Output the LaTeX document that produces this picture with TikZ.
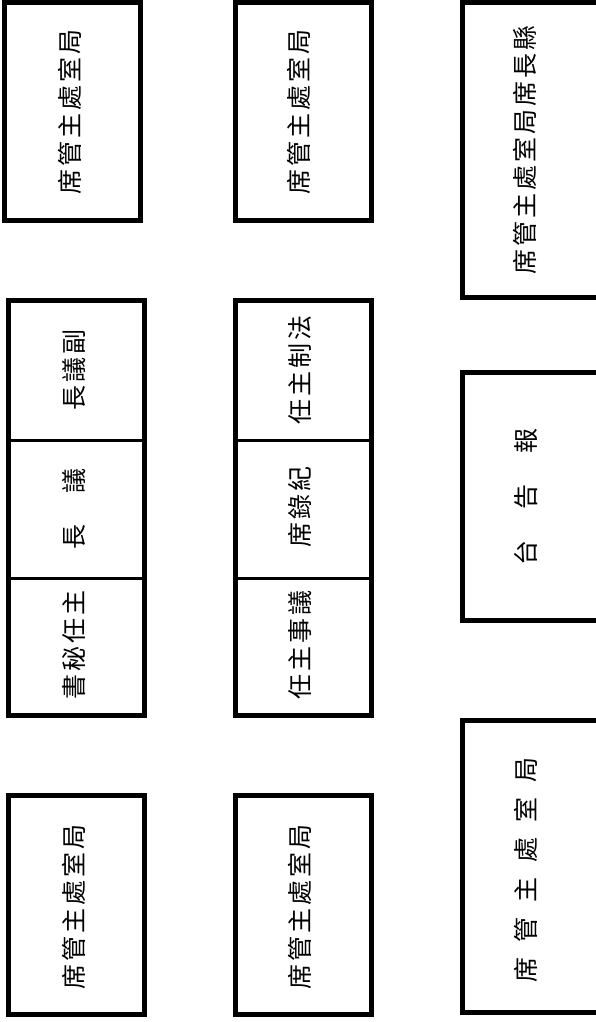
\documentclass[tikz,border=0pt]{standalone}
\usepackage{fontspec}
\usepackage{tikz}
\newfontfamily\cjk[LetterSpace=12]{Noto Sans CJK TC}

\begin{document}
\begin{tikzpicture}[x=1pt, y=-1pt,
    frame/.style={draw=black, line width=5pt},
    divider/.style={draw=black, line width=3pt},
    label/.style={rotate=90, inner sep=0pt, font=\cjk\fontsize{25}{25}\selectfont}]
  \useasboundingbox[fill=white] (0,0) rectangle (595,1022);
  % top row
  \draw[frame] (4.5,2.5) rectangle (140.5,220.5);
  \draw[frame] (235.5,2.5) rectangle (371.5,220.5);
  \draw[frame] (462.5,2.5) rectangle (600,297.5);
  \node[label] (t1) at (70,112) {席管主處室局};
  \node[label] (t2) at (299,112) {席管主處室局};
  \node[label] (t3) at (525,150) {席管主處室局席長縣};
  % middle stacks
  \foreach \x in {8.5,235.5}{
    \draw[frame] (\x,300.5) rectangle (\x+136,715.5);
    \draw[divider] (\x,440) -- (\x+136,440);
    \draw[divider] (\x,578) -- (\x+136,578);}
  \node[label] (a1) at (74,370) {長議副};
  \node[label] (a2) at (74,509) {長　議};
  \node[label] (a3) at (74,645) {書秘任主};
  \node[label] (b1) at (300,370) {任主制法};
  \node[label] (b2) at (300,507) {席錄紀};
  \node[label] (b3) at (300,645) {任主事議};
  \draw[frame] (462.5,372.5) rectangle (600,620.5);
  \node[label] (r1) at (526,497) {台　告　報};
  % bottom row
  \draw[frame] (8.5,795.5) rectangle (144.5,1014.5);
  \draw[frame] (235.5,795.5) rectangle (371.5,1014.5);
  \draw[frame] (462.5,720.5) rectangle (600,1012.5);
  \node[label] (u1) at (74,907) {席管主處室局};
  \node[label] (u2) at (300,907) {席管主處室局};
  \node[label] (u3) at (526,870) {席\hspace{15pt}管\hspace{15pt}主\hspace{15pt}處\hspace{15pt}室\hspace{15pt}局};
\end{tikzpicture}
\end{document}
